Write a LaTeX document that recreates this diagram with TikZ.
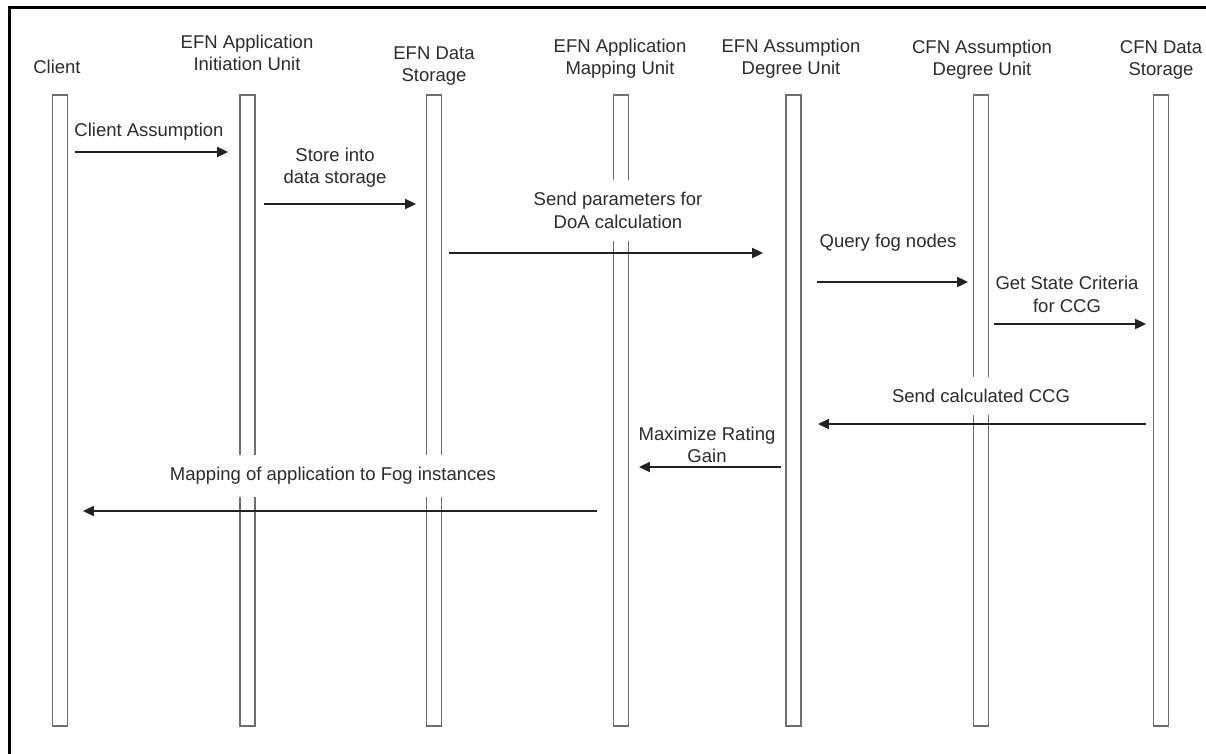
\documentclass[tikz,border=0pt]{standalone}
\usepackage{fontspec}
\setmainfont{Liberation Sans}
\usetikzlibrary{arrows.meta}
\definecolor{txt}{HTML}{2C2C2C}
\definecolor{barline}{HTML}{6E6E6E}
\definecolor{msgline}{HTML}{222222}
\begin{document}
\begin{tikzpicture}[x=1pt,y=-1pt,
  lifeline/.style={draw=barline, line width=1.8pt, minimum width=15pt, minimum height=631pt, inner sep=0pt},
  head/.style={text=txt, font=\fontsize{18.5}{22}\selectfont, align=center, inner sep=0pt},
  msglabel/.style={text=txt, font=\fontsize{18.5}{22.5}\selectfont, align=center, fill=white, inner xsep=2pt, inner ysep=12pt},
  msg/.style={draw=msgline, line width=1.8pt, -{Triangle[length=11pt,width=10pt]}}]
\useasboundingbox (0,0) rectangle (1206,753);

% frame
\draw[line width=3pt, line cap=rect] (9.5,753) -- (9.5,7.5) -- (1206,7.5);

% lifelines
\node[lifeline] (client) at (60,410.5) {};
\node[lifeline] (init)   at (247.5,410.5) {};
\node[lifeline] (efnds)  at (434,410.5) {};
\node[lifeline] (mapu)   at (621,410.5) {};
\node[lifeline] (efnad)  at (793.5,410.5) {};
\node[lifeline] (cfnad)  at (981,410.5) {};
\node[lifeline] (cfnds)  at (1161,410.5) {};

% participant headings
\node[head] (hclient) at (57,67)    {Client};
\node[head] (hinit)   at (247,52.5) {EFN Application\\Initiation Unit};
\node[head] (hefnds)  at (434,66)   {EFN Data\\Storage};
\node[head] (hmapu)   at (620,59)   {EFN Application\\Mapping Unit};
\node[head] (hefnad)  at (791,59)   {EFN Assumption\\Degree Unit};
\node[head] (hcfnad)  at (982,60)   {CFN Assumption\\Degree Unit};
\node[head] (hcfnds)  at (1161,60)  {CFN Data\\Storage};

% message labels
\node[msglabel] (l1) at (149,132)   {Client Assumption};
\node[msglabel] (l2) at (335,167.5) {Store into\\data storage};
\node[msglabel] (l3) at (618,210.5) {Send parameters for\\DoA calculation};
\node[msglabel] (l4) at (888,243)   {Query fog nodes};
\node[msglabel] (l5) at (1067,294.5){Get State Criteria\\for CCG};
\node[msglabel] (l6) at (981,396)   {Send calculated CCG};
\node[msglabel] (l7) at (707,445)   {Maximize Rating\\Gain};
\node[msglabel] (l8) at (333,476)   {Mapping of application to Fog instances};

% message heights
\coordinate (m1) at (0,152);
\coordinate (m2) at (0,204);
\coordinate (m3) at (0,253);
\coordinate (m4) at (0,282);
\coordinate (m5) at (0,324);
\coordinate (m6) at (0,424);
\coordinate (m7) at (0,467);
\coordinate (m8) at (0,511);

% messages
\draw[msg] ([xshift=6.5pt]client.east |- m1) -- ([xshift=-11pt]init.west |- m1);
\draw[msg] ([xshift=8pt]init.east |- m2) -- ([xshift=-9.5pt]efnds.west |- m2);
\draw[msg] ([xshift=6.5pt]efnds.east |- m3) -- ([xshift=-22pt]efnad.west |- m3);
\draw[msg] ([xshift=15pt]efnad.east |- m4) -- ([xshift=-4.5pt]cfnad.west |- m4);
\draw[msg] ([xshift=4.5pt]cfnad.east |- m5) -- ([xshift=-6.5pt]cfnds.west |- m5);
\draw[msg] ([xshift=-6.5pt]cfnds.west |- m6) -- ([xshift=16pt]efnad.east |- m6);
\draw[msg] ([xshift=-4pt]efnad.west |- m7) -- ([xshift=9.5pt]mapu.east |- m7);
\draw[msg] ([xshift=-15.5pt]mapu.west |- m8) -- ([xshift=14.5pt]client.east |- m8);
\end{tikzpicture}
\end{document}
